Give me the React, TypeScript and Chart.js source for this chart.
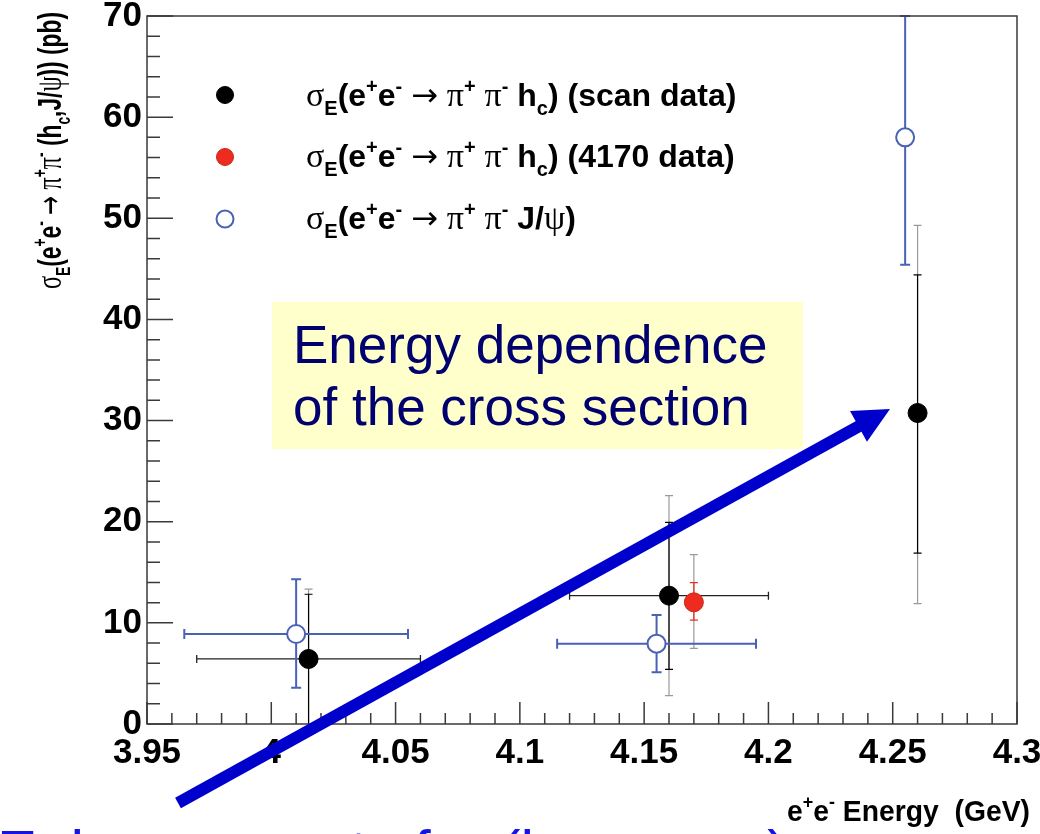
import React, { useEffect, useRef } from 'react';
import { Chart, registerables } from 'chart.js';

Chart.register(...registerables);

// ---------- data ----------
const xTickValues = [3.95, 4.0, 4.05, 4.1, 4.15, 4.2, 4.25, 4.3];
const xTickLabels = ['3.95', '4', '4.05', '4.1', '4.15', '4.2', '4.25', '4.3'];
const yTickValues = [0, 10, 20, 30, 40, 50, 60, 70];
const yTickLabels = ['0', '10', '20', '30', '40', '50', '60', '70'];

// sigma(e+e- -> pi+ pi- hc), scan data
const scanE = [4.015, 4.16, 4.26];
const scanSigma = [6.43, 12.69, 30.75];
const scanStatUp = [6.4, 7.25, 13.65];
const scanStatDown = [7.0, 7.28, 13.85];
const scanTotUp = [6.9, 9.88, 18.55];
const scanTotDown = [7.4, 9.89, 18.85];
const scanEErr = [0.045, 0.04, 0];

// sigma(e+e- -> pi+ pi- hc), 4170 data
const d4170E = [4.17];
const d4170Sigma = [12.03];
const d4170StatUp = [1.94];
const d4170StatDown = [1.75];
const d4170TotUp = [4.71];
const d4170TotDown = [4.55];

// sigma(e+e- -> pi+ pi- J/psi)
const jpsiE = [4.01, 4.155, 4.255];
const jpsiSigma = [8.9, 7.94, 58.0];
const jpsiErrUp = [5.41, 2.84, 12.0];
const jpsiErrDown = [5.31, 2.83, 12.6];
const jpsiEErr = [0.045, 0.04, 0];

const legendSuffixes = ['(scan data)', '(4170 data)'];

// ---------- style ----------
const SANS = '"Liberation Sans", Arial, Helvetica, sans-serif';
const SERIF = '"Liberation Serif", "DejaVu Serif", serif';
const BLACK = '#000000';
const RED = '#ee2b1f';
const BLUE = '#4a62b4';
const GRAY = '#9a9a9a';
const AXIS = '#3a3a3a';

type Seg = { t: string; k?: 'n' | 'g' | 'sup' | 'sub' | 'a' | 'r' };

function segFont(k: string, size: number) {
  if (k === 'sup' || k === 'sub') return `bold ${Math.round(size * 0.62)}px ${SANS}`;
  if (k === 'g') return `${Math.round(size * 1.05)}px ${SERIF}`;
  if (k === 'a') return `${size}px "DejaVu Sans", sans-serif`;
  if (k === 'r') return `${size}px ${SANS}`;
  return `bold ${size}px ${SANS}`;
}
function segDy(k: string, size: number) {
  if (k === 'sup') return -size * 0.42;
  if (k === 'sub') return size * 0.28;
  return 0;
}
function measureRich(ctx: CanvasRenderingContext2D, segs: Seg[], size: number) {
  let w = 0;
  for (const s of segs) {
    ctx.font = segFont(s.k || 'n', size);
    w += ctx.measureText(s.t).width;
  }
  return w;
}
function drawRich(ctx: CanvasRenderingContext2D, x: number, y: number, segs: Seg[], size: number, color: string) {
  let cx = x;
  ctx.fillStyle = color;
  ctx.textAlign = 'left';
  ctx.textBaseline = 'alphabetic';
  for (const s of segs) {
    const k = s.k || 'n';
    ctx.font = segFont(k, size);
    ctx.fillText(s.t, cx, y + segDy(k, size));
    cx += ctx.measureText(s.t).width;
  }
  return cx - x;
}
// draws rich text squeezed/stretched to a given width
function drawRichFit(ctx: CanvasRenderingContext2D, x: number, y: number, segs: Seg[], size: number, color: string, width: number) {
  const w = measureRich(ctx, segs, size);
  ctx.save();
  ctx.translate(x, y);
  ctx.scale(width / w, 1);
  drawRich(ctx, 0, 0, segs, size, color);
  ctx.restore();
}

const hcSegs = (suffix: string): Seg[] => [
  { t: 'σ', k: 'g' }, { t: 'E', k: 'sub' }, { t: '(e' }, { t: '+', k: 'sup' }, { t: 'e' }, { t: '-', k: 'sup' },
  { t: ' ' }, { t: '→', k: 'a' }, { t: ' ' }, { t: 'π', k: 'g' }, { t: '+', k: 'sup' }, { t: ' ' },
  { t: 'π', k: 'g' }, { t: '-', k: 'sup' }, { t: ' h' }, { t: 'c', k: 'sub' }, { t: ') ' + suffix },
];
const jpsiSegs: Seg[] = [
  { t: 'σ', k: 'g' }, { t: 'E', k: 'sub' }, { t: '(e' }, { t: '+', k: 'sup' }, { t: 'e' }, { t: '-', k: 'sup' },
  { t: ' ' }, { t: '→', k: 'a' }, { t: ' ' }, { t: 'π', k: 'g' }, { t: '+', k: 'sup' }, { t: ' ' },
  { t: 'π', k: 'g' }, { t: '-', k: 'sup' }, { t: ' J/' }, { t: 'ψ', k: 'g' }, { t: ')' },
];
const yTitleSegs: Seg[] = [
  { t: 'σ', k: 'g' }, { t: 'E', k: 'sub' }, { t: '(e' }, { t: '+', k: 'sup' }, { t: 'e' }, { t: '-', k: 'sup' },
  { t: ' ' }, { t: '→', k: 'a' }, { t: ' ' }, { t: 'π', k: 'g' }, { t: '+', k: 'sup' }, { t: 'π', k: 'g' },
  { t: '-', k: 'sup' }, { t: ' (h' }, { t: 'c', k: 'sub' }, { t: ',J/' }, { t: 'ψ', k: 'g' }, { t: ')) (pb)' },
];
const xTitleSegs: Seg[] = [
  { t: 'e' }, { t: '+', k: 'sup' }, { t: 'e' }, { t: '-', k: 'sup' }, { t: ' Energy  (GeV)' },
];
const bottomSegs: Seg[] = [
  { t: 'Enhancements for (h', k: 'r' }, { t: 'c', k: 'sub' }, { t: ' → π π)', k: 'r' },
];

function vbar(ctx: CanvasRenderingContext2D, x: number, y1: number, y2: number, cap: number, color: string, lw: number) {
  ctx.strokeStyle = color;
  ctx.lineWidth = lw;
  ctx.beginPath();
  ctx.moveTo(x, y1); ctx.lineTo(x, y2);
  ctx.moveTo(x - cap, y1); ctx.lineTo(x + cap, y1);
  ctx.moveTo(x - cap, y2); ctx.lineTo(x + cap, y2);
  ctx.stroke();
}
function hbar(ctx: CanvasRenderingContext2D, y: number, x1: number, x2: number, cap: number, color: string, lw: number) {
  ctx.strokeStyle = color;
  ctx.lineWidth = lw;
  ctx.beginPath();
  ctx.moveTo(x1, y); ctx.lineTo(x2, y);
  ctx.moveTo(x1, y - cap); ctx.lineTo(x1, y + cap);
  ctx.moveTo(x2, y - cap); ctx.lineTo(x2, y + cap);
  ctx.stroke();
}

const customPlugin = {
  id: 'rootStyle',
  beforeDatasetsDraw(chart: any) {
    const { ctx, chartArea: a, scales } = chart;
    const X = scales.x, Y = scales.y;
    ctx.save();
    ctx.beginPath();
    ctx.rect(a.left - 2, a.top - 2, a.right - a.left + 4, a.bottom - a.top + 4);
    ctx.clip();
    scanE.forEach((e, i) => {
      const px = X.getPixelForValue(e);
      const py = Y.getPixelForValue(scanSigma[i]);
      vbar(ctx, px, Y.getPixelForValue(scanSigma[i] + scanTotUp[i]), Y.getPixelForValue(scanSigma[i] - scanTotDown[i]), 4, GRAY, 1.2);
      vbar(ctx, px, Y.getPixelForValue(scanSigma[i] + scanStatUp[i]), Y.getPixelForValue(scanSigma[i] - scanStatDown[i]), 4, BLACK, 1.2);
      if (scanEErr[i] > 0) hbar(ctx, py, X.getPixelForValue(e - scanEErr[i]), X.getPixelForValue(e + scanEErr[i]), 4, '#222', 1.3);
    });
    d4170E.forEach((e, i) => {
      const px = X.getPixelForValue(e);
      vbar(ctx, px, Y.getPixelForValue(d4170Sigma[i] + d4170TotUp[i]), Y.getPixelForValue(d4170Sigma[i] - d4170TotDown[i]), 4, GRAY, 1.2);
      vbar(ctx, px, Y.getPixelForValue(d4170Sigma[i] + d4170StatUp[i]), Y.getPixelForValue(d4170Sigma[i] - d4170StatDown[i]), 4, RED, 1.2);
    });
    jpsiE.forEach((e, i) => {
      const px = X.getPixelForValue(e);
      const py = Y.getPixelForValue(jpsiSigma[i]);
      vbar(ctx, px, Y.getPixelForValue(jpsiSigma[i] + jpsiErrUp[i]), Y.getPixelForValue(jpsiSigma[i] - jpsiErrDown[i]), 5, BLUE, 2);
      if (jpsiEErr[i] > 0) hbar(ctx, py, X.getPixelForValue(e - jpsiEErr[i]), X.getPixelForValue(e + jpsiEErr[i]), 5, BLUE, 2);
    });
    ctx.restore();
  },
  afterDatasetsDraw(chart: any) {
    const { ctx, chartArea: a, scales } = chart;
    const X = scales.x, Y = scales.y;
    ctx.save();
    ctx.strokeStyle = AXIS;
    ctx.lineWidth = 1.5;
    ctx.strokeRect(a.left, a.top, a.right - a.left, a.bottom - a.top);
    ctx.beginPath();
    for (let i = 0; i <= 35; i++) {
      const v = 3.95 + i * 0.01;
      const px = X.getPixelForValue(v);
      const len = i % 5 === 0 ? 22 : 11;
      ctx.moveTo(px, a.bottom); ctx.lineTo(px, a.bottom - len);
    }
    for (let j = 0; j <= 35; j++) {
      const v = j * 2;
      const py = Y.getPixelForValue(v);
      const len = j % 5 === 0 ? 26 : 13;
      ctx.moveTo(a.left, py); ctx.lineTo(a.left + len, py);
    }
    ctx.stroke();
    ctx.restore();
  },
  afterDraw(chart: any) {
    const { ctx } = chart;
    ctx.save();
    // legend
    const markers = [
      { fill: BLACK, stroke: BLACK, lw: 1 },
      { fill: RED, stroke: '#c8281c', lw: 1 },
      { fill: '#ffffff', stroke: BLUE, lw: 2 },
    ];
    const ly = [95, 157, 219];
    markers.forEach((m, i) => {
      ctx.beginPath();
      ctx.arc(225, ly[i], 8.5, 0, Math.PI * 2);
      ctx.fillStyle = m.fill; ctx.fill();
      ctx.strokeStyle = m.stroke; ctx.lineWidth = m.lw; ctx.stroke();
    });
    drawRich(ctx, 306, 106, hcSegs(legendSuffixes[0]), 32, BLACK);
    drawRich(ctx, 306, 167, hcSegs(legendSuffixes[1]), 32, BLACK);
    drawRich(ctx, 306, 229, jpsiSegs, 32, BLACK);

    // y axis title
    ctx.save();
    ctx.translate(61, 289);
    ctx.rotate(-Math.PI / 2);
    drawRichFit(ctx, 0, 0, yTitleSegs, 33, BLACK, 277);
    ctx.restore();

    // x axis title
    drawRichFit(ctx, 787, 821, xTitleSegs, 30, BLACK, 243);

    // annotation box
    ctx.fillStyle = '#ffffcc';
    ctx.fillRect(272, 302, 531, 147);
    ctx.fillStyle = '#00006e';
    ctx.font = `53px ${SANS}`;
    ctx.textBaseline = 'alphabetic';
    ctx.textAlign = 'left';
    ctx.fillText('Energy dependence', 293, 363);
    ctx.fillText('of the cross section', 293, 425);

    // arrow
    const tail = { x: 178, y: 803 };
    const tip = { x: 890, y: 409 };
    const dx = tip.x - tail.x, dy = tip.y - tail.y;
    const L = Math.hypot(dx, dy);
    const ux = dx / L, uy = dy / L;
    const headLen = 36, headHalf = 17.5;
    const bx = tip.x - ux * headLen, by = tip.y - uy * headLen;
    ctx.strokeStyle = '#0000cc';
    ctx.fillStyle = '#0000cc';
    ctx.lineWidth = 12;
    ctx.lineCap = 'butt';
    ctx.beginPath();
    ctx.moveTo(tail.x, tail.y);
    ctx.lineTo(bx + ux * 2, by + uy * 2);
    ctx.stroke();
    ctx.beginPath();
    ctx.moveTo(tip.x, tip.y);
    ctx.lineTo(bx - uy * headHalf, by + ux * headHalf);
    ctx.lineTo(bx + uy * headHalf, by - ux * headHalf);
    ctx.closePath();
    ctx.fill();

    // bottom (cut-off) text
    drawRich(ctx, -3, 872, bottomSegs, 60, '#1414e6');
    ctx.restore();
  },
};

export default function App() {
  const ref = useRef<HTMLCanvasElement>(null);
  useEffect(() => {
    document.body.style.margin = '0';
    const canvas = ref.current;
    if (!canvas) return;
    const tickFont = { family: SANS, size: 35, weight: 'bold' as const };
    const chart = new Chart(canvas, {
      type: 'scatter',
      data: {
        datasets: [
          {
            label: 'scan data',
            data: scanE.map((e, i) => ({ x: e, y: scanSigma[i] })),
            backgroundColor: BLACK,
            borderColor: BLACK,
            borderWidth: 1,
            pointRadius: 9.5,
          },
          {
            label: '4170 data',
            data: d4170E.map((e, i) => ({ x: e, y: d4170Sigma[i] })),
            backgroundColor: RED,
            borderColor: '#c8281c',
            borderWidth: 1,
            pointRadius: 9.5,
          },
          {
            label: 'J/psi',
            data: jpsiE.map((e, i) => ({ x: e, y: jpsiSigma[i] })),
            backgroundColor: '#ffffff',
            borderColor: BLUE,
            borderWidth: 2,
            pointRadius: 9,
          },
        ],
      },
      options: {
        animation: false,
        responsive: true,
        maintainAspectRatio: false,
        layout: { padding: { top: 16, right: 23, left: 0, bottom: 0 } },
        plugins: { legend: { display: false }, tooltip: { enabled: false } },
        scales: {
          x: {
            type: 'linear',
            min: 3.95,
            max: 4.3,
            grid: { display: false, drawTicks: false },
            border: { display: false },
            ticks: {
              autoSkip: false,
              maxRotation: 0,
              padding: 8,
              color: BLACK,
              font: tickFont,
              callback: (_v: any, i: number) => xTickLabels[i],
            },
            afterBuildTicks: (s: any) => { s.ticks = xTickValues.map((v) => ({ value: v })); },
            afterFit: (s: any) => { s.height = 110; s.paddingLeft = 0; s.paddingRight = 0; },
          },
          y: {
            type: 'linear',
            min: 0,
            max: 70,
            grid: { display: false, drawTicks: false },
            border: { display: false },
            ticks: {
              padding: 5,
              color: BLACK,
              font: tickFont,
              callback: (_v: any, i: number) => yTickLabels[i],
            },
            afterBuildTicks: (s: any) => { s.ticks = yTickValues.map((v) => ({ value: v })); },
            afterFit: (s: any) => { s.width = 147; s.paddingTop = 0; s.paddingBottom = 0; },
          },
        },
      },
      plugins: [customPlugin],
    } as any);
    return () => chart.destroy();
  }, []);
  return (
    <div style={{ position: 'fixed', left: 0, top: 0, width: 1040, height: 834, background: '#fff' }}>
      <canvas ref={ref} />
    </div>
  );
}
